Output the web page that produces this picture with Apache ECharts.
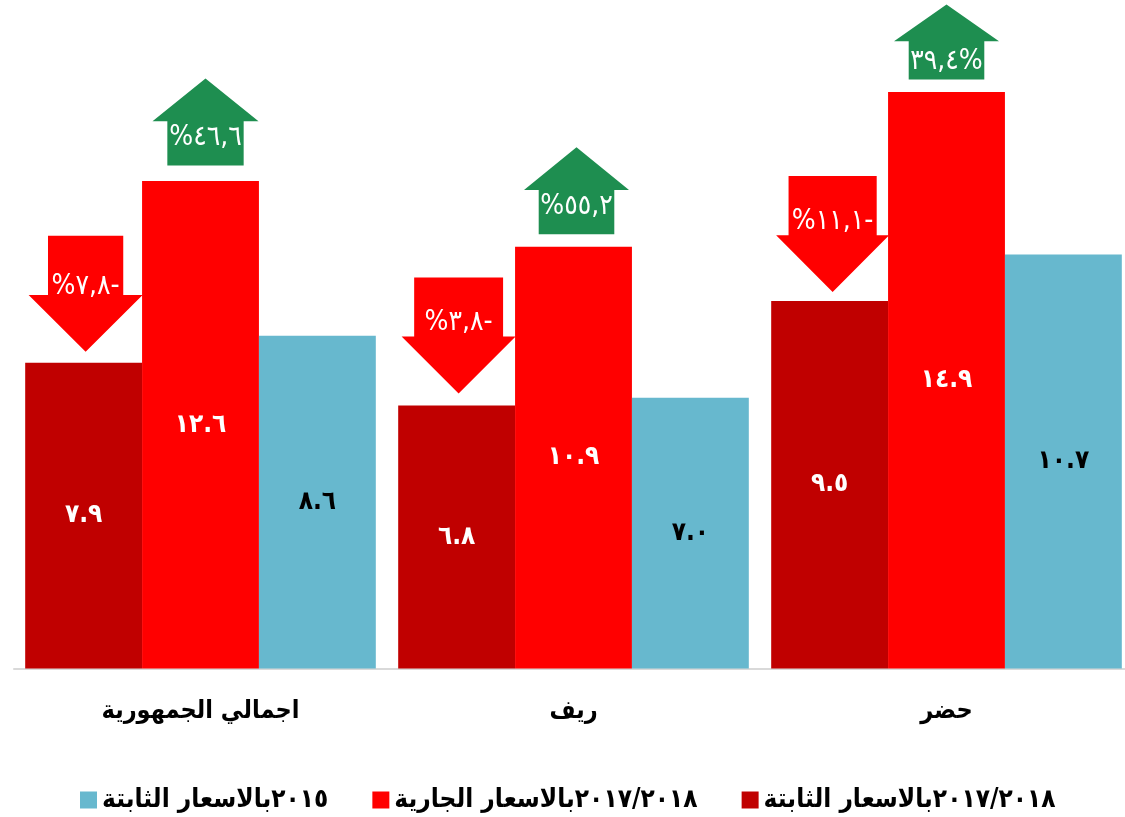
<!DOCTYPE html>
<html>
<head>
<meta charset="utf-8">
<script src="https://cdn.jsdelivr.net/npm/echarts@6/dist/echarts.min.js"></script>
<style>
  html, body { margin: 0; padding: 0; background: #fff; }
  #main { width: 1125px; height: 817px; }
</style>
</head>
<body>
<div id="main"></div>
<script>
// 数据
var categories = ['اجمالي الجمهورية', 'ريف', 'حضر'];
var constant2018 = [7.9, 6.8, 9.5];
var current2018 = [12.6, 10.9, 14.9];
var constant2015 = [8.6, 7.0, 10.7];
var downChange = ['%٧,٨-', '%٣,٨-', '%١١,١-'];
var upChange = ['%٤٦,٦', '%٥٥,٢', '٣٩,٤%'];

var nameConst2018 = '٢٠١٧/٢٠١٨بالاسعار الثابتة';
var nameCurr2018 = '٢٠١٧/٢٠١٨بالاسعار الجارية';
var nameConst2015 = '٢٠١٥بالاسعار الثابتة';

var FONT = "'DejaVu Sans Condensed', 'DejaVu Sans', sans-serif";

// 转成阿拉伯数字
function toArabic(v) {
    var digits = '٠١٢٣٤٥٦٧٨٩';
    return v.toFixed(1).replace(/[0-9]/g, function (d) { return digits[+d]; });
}

// 箭头形状
var downArrowNarrow = 'path://M17,0 L83,0 L83,51 L100,51 L50,100 L0,51 L17,51 Z';
var downArrowWide = 'path://M11,0 L89,0 L89,51 L100,51 L50,100 L0,51 L11,51 Z';
var upArrow = 'path://M50,0 L100,49 L86,49 L86,100 L14,100 L14,49 L0,49 Z';

var downSymbols = [downArrowNarrow, downArrowWide, downArrowWide];
var downSizes = [[114, 116], [114, 116], [113, 116]];
var downOffsets = [[2, -69], [2, -70], [3, -67]];
var downLabelDy = [-7, -13, -12];

var upSizes = [[106, 87], [105, 87], [105, 75]];
var upOffsets = [[5, -59], [3, -56], [0, -50]];
var upLabelDy = [16, 16, 20];

function buildDown() {
    var res = [];
    for (var i = 0; i < categories.length; i++) {
        res.push({
            name: downChange[i],
            coord: [i, constant2018[i]],
            symbol: downSymbols[i],
            symbolSize: downSizes[i],
            symbolOffset: downOffsets[i],
            label: { offset: [0, downLabelDy[i]] }
        });
    }
    return res;
}

function buildUp() {
    var res = [];
    for (var i = 0; i < categories.length; i++) {
        res.push({
            name: upChange[i],
            coord: [i, current2018[i]],
            symbolSize: upSizes[i],
            symbolOffset: upOffsets[i],
            label: { offset: [0, upLabelDy[i]] }
        });
    }
    return res;
}

var barLabel = function (color) {
    return {
        show: true,
        position: 'inside',
        color: color,
        fontSize: 26,
        fontWeight: 'bold',
        fontFamily: FONT,
        formatter: function (p) { return toArabic(p.value); }
    };
};

var option = {
    backgroundColor: '#ffffff',
    animation: false,
    grid: {
        left: 14,
        top: 49.5,
        width: 1119,
        bottom: 148.5,
        outerBoundsMode: 'none'
    },
    legend: {
        data: [nameConst2015, nameCurr2018, nameConst2018],
        left: 75,
        top: 782,
        itemWidth: 17,
        itemHeight: 17,
        itemGap: 44,
        itemStyle: { borderWidth: 0 },
        icon: 'rect',
        textStyle: {
            color: '#000',
            fontSize: 26,
            fontWeight: 'bold',
            fontFamily: FONT
        }
    },
    xAxis: {
        type: 'category',
        data: categories,
        axisLine: { show: true, lineStyle: { color: '#d9d9d9', width: 2 } },
        axisTick: { show: false },
        axisLabel: {
            margin: 30,
            color: '#000',
            fontSize: 25,
            fontWeight: 'bold',
            fontFamily: FONT
        }
    },
    yAxis: {
        type: 'value',
        min: 0,
        max: 16,
        show: false,
        splitLine: { show: false }
    },
    series: [
        {
            name: nameConst2018,
            type: 'bar',
            data: constant2018,
            barGap: '0%',
            barCategoryGap: '6%',
            itemStyle: { color: '#c00000' },
            label: barLabel('#ffffff'),
            markPoint: {
                symbol: downArrowNarrow,
                itemStyle: { color: '#ff0000' },
                label: {
                    show: true,
                    position: 'inside',
                    color: '#ffffff',
                    fontSize: 28,
                    fontFamily: FONT,
                    formatter: '{b}'
                },
                data: buildDown()
            }
        },
        {
            name: nameCurr2018,
            type: 'bar',
            data: current2018,
            barGap: '0%',
            barCategoryGap: '6%',
            itemStyle: { color: '#ff0000' },
            label: barLabel('#ffffff'),
            markPoint: {
                symbol: upArrow,
                itemStyle: { color: '#1e8e50' },
                label: {
                    show: true,
                    position: 'inside',
                    color: '#ffffff',
                    fontSize: 28,
                    fontFamily: FONT,
                    formatter: '{b}'
                },
                data: buildUp()
            }
        },
        {
            name: nameConst2015,
            type: 'bar',
            data: constant2015,
            barGap: '0%',
            barCategoryGap: '6%',
            itemStyle: { color: '#67b8ce' },
            label: barLabel('#000000')
        }
    ]
};

var myChart = echarts.init(document.getElementById('main'));
myChart.setOption(option);
</script>
</body>
</html>
